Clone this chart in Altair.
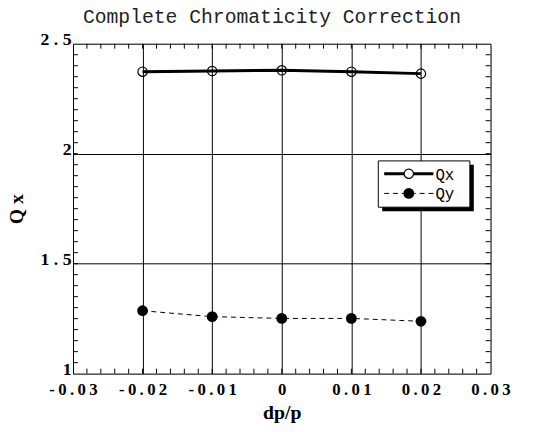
import altair as alt
import pandas as pd

# ---- data ----
dp = [-0.02, -0.01, 0.0, 0.01, 0.02]
qx = [2.373, 2.376, 2.379, 2.373, 2.364]
qy = [1.286, 1.259, 1.251, 1.251, 1.238]

x_ticks = [-0.03, -0.02, -0.01, 0.0, 0.01, 0.02, 0.03]
y_ticks = [1.0, 1.5, 2.0, 2.5]
x_minor = [round(-0.03 + 0.002 * i, 3) for i in range(1, 30)]
y_minor = [round(1.0 + 0.05 * i, 2) for i in range(1, 30)]

series_names = ["Qx", "Qy"]
title_text = "Complete Chromaticity Correction"

W, H = 424, 335
SERIF = "Liberation Serif"
MONO = "Liberation Mono"

df = pd.DataFrame({"dp": dp, "Qx": qx, "Qy": qy})
xm = pd.DataFrame({"v": x_minor})
ym = pd.DataFrame({"v": y_minor})
one = pd.DataFrame({"a": [0]})

xscale = alt.Scale(domain=[-0.03, 0.03], nice=False, zero=False)
yscale = alt.Scale(domain=[1.0, 2.5], nice=False, zero=False)

xaxis = alt.Axis(
    values=x_ticks, format="~g", grid=True, gridColor="black", gridOpacity=1, gridWidth=1,
    ticks=False, domain=False, labelFlush=False, labelOverlap=False, labelBound=False,
    labelFont=SERIF, labelFontWeight="bold", labelFontSize=17, labelColor="black",
    labelPadding=8,
    labelExpr="join(split(replace(datum.label, '\u2212', '-'), ''), '\u2009')",
    title="dp/p", titleFont=SERIF, titleFontWeight="bold", titleFontSize=20,
    titleColor="black", titleBaseline="alphabetic", titleY=46,
)
yaxis = alt.Axis(
    values=y_ticks, format="~g", grid=True, gridColor="black", gridOpacity=1, gridWidth=1,
    ticks=False, domain=False, labelOverlap=False, labelBound=False, labelFlush=False,
    labelFont=SERIF, labelFontWeight="bold", labelFontSize=18, labelColor="black",
    labelPadding=2, labelOffset=-4,
    labelExpr="join(split(datum.label, ''), ' ')",
    title="Q x", titleFont=SERIF, titleFontWeight="bold", titleFontSize=20,
    titleColor="black", titleAngle=-90, titleBaseline="middle", titleX=-57, titleY=H / 2,
)

base = alt.Chart(df)

qx_line = base.mark_line(color="black", strokeWidth=3).encode(
    x=alt.X("dp:Q", scale=xscale, axis=xaxis),
    y=alt.Y("Qx:Q", scale=yscale, axis=yaxis),
)
qx_pts = base.mark_point(filled=False, color="black", size=90, strokeWidth=1.2, opacity=1).encode(
    x=alt.X("dp:Q", scale=xscale), y=alt.Y("Qx:Q", scale=yscale)
)
qy_line = base.mark_line(color="black", strokeWidth=1, strokeDash=[5, 4]).encode(
    x=alt.X("dp:Q", scale=xscale), y=alt.Y("Qy:Q", scale=yscale)
)
qy_pts = base.mark_circle(color="black", size=120, opacity=1).encode(
    x=alt.X("dp:Q", scale=xscale), y=alt.Y("Qy:Q", scale=yscale)
)

# inward minor ticks
tb = alt.Chart(xm).mark_rule(color="black", strokeWidth=1).encode(
    x=alt.X("v:Q", scale=xscale), y=alt.value(H - 5), y2=alt.value(H))
tt = alt.Chart(xm).mark_rule(color="black", strokeWidth=1).encode(
    x=alt.X("v:Q", scale=xscale), y=alt.value(0), y2=alt.value(5))
tl = alt.Chart(ym).mark_rule(color="black", strokeWidth=1).encode(
    y=alt.Y("v:Q", scale=yscale), x=alt.value(0), x2=alt.value(5))
tr = alt.Chart(ym).mark_rule(color="black", strokeWidth=1).encode(
    y=alt.Y("v:Q", scale=yscale), x=alt.value(W - 5), x2=alt.value(W))

# chart title as text placed above the plot area
title_mark = alt.Chart(one).mark_text(text=title_text, font=MONO, fontSize=20, align="center",
                                      baseline="alphabetic", color="#222222").encode(
    x=alt.value(W / 2 - 10), y=alt.value(-21))

# legend box (pixel positions inside plot area)
LX0, LX1, LY0, LY1 = 310, 403, 119, 166
shadow = alt.Chart(one).mark_rect(color="black").encode(
    x=alt.value(LX0 + 4), x2=alt.value(LX1 + 4), y=alt.value(LY0 + 4), y2=alt.value(LY1 + 4))
box = alt.Chart(one).mark_rect(fill="white", stroke="black", strokeWidth=1).encode(
    x=alt.value(LX0), x2=alt.value(LX1), y=alt.value(LY0), y2=alt.value(LY1))
r1y, r2y = 132, 152
leg1 = alt.Chart(one).mark_rule(color="black", strokeWidth=3).encode(
    x=alt.value(LX0 + 6), x2=alt.value(LX0 + 56), y=alt.value(r1y))
leg1p = alt.Chart(one).mark_point(filled=True, fill="white", stroke="black", size=90, strokeWidth=1.2, opacity=1).encode(
    x=alt.value(LX0 + 31), y=alt.value(r1y))
leg2 = alt.Chart(one).mark_rule(color="black", strokeWidth=1, strokeDash=[5, 4]).encode(
    x=alt.value(LX0 + 6), x2=alt.value(LX0 + 56), y=alt.value(r2y))
leg2p = alt.Chart(one).mark_circle(color="black", size=120, opacity=1).encode(
    x=alt.value(LX0 + 31), y=alt.value(r2y))
legt1 = alt.Chart(one).mark_text(text=series_names[0], font=MONO, fontSize=16, align="left",
                                 baseline="middle", color="black").encode(
    x=alt.value(LX0 + 58), y=alt.value(r1y + 1))
legt2 = alt.Chart(one).mark_text(text=series_names[1], font=MONO, fontSize=16, align="left",
                                 baseline="middle", color="black").encode(
    x=alt.value(LX0 + 58), y=alt.value(r2y + 1))

chart = alt.layer(
    qx_line, tb, tt, tl, tr, qx_pts, qy_line, qy_pts, title_mark,
    shadow, box, leg1, leg1p, leg2, leg2p, legt1, legt2,
).properties(
    width=W, height=H,
    padding={"left": 66, "top": 33, "right": 36, "bottom": 56},
    autosize=alt.AutoSizeParams(type="none"),
).configure_view(stroke="black", strokeWidth=1).configure(background="white")

chart.save("out.html", embed_options={"renderer": "svg", "actions": False})
